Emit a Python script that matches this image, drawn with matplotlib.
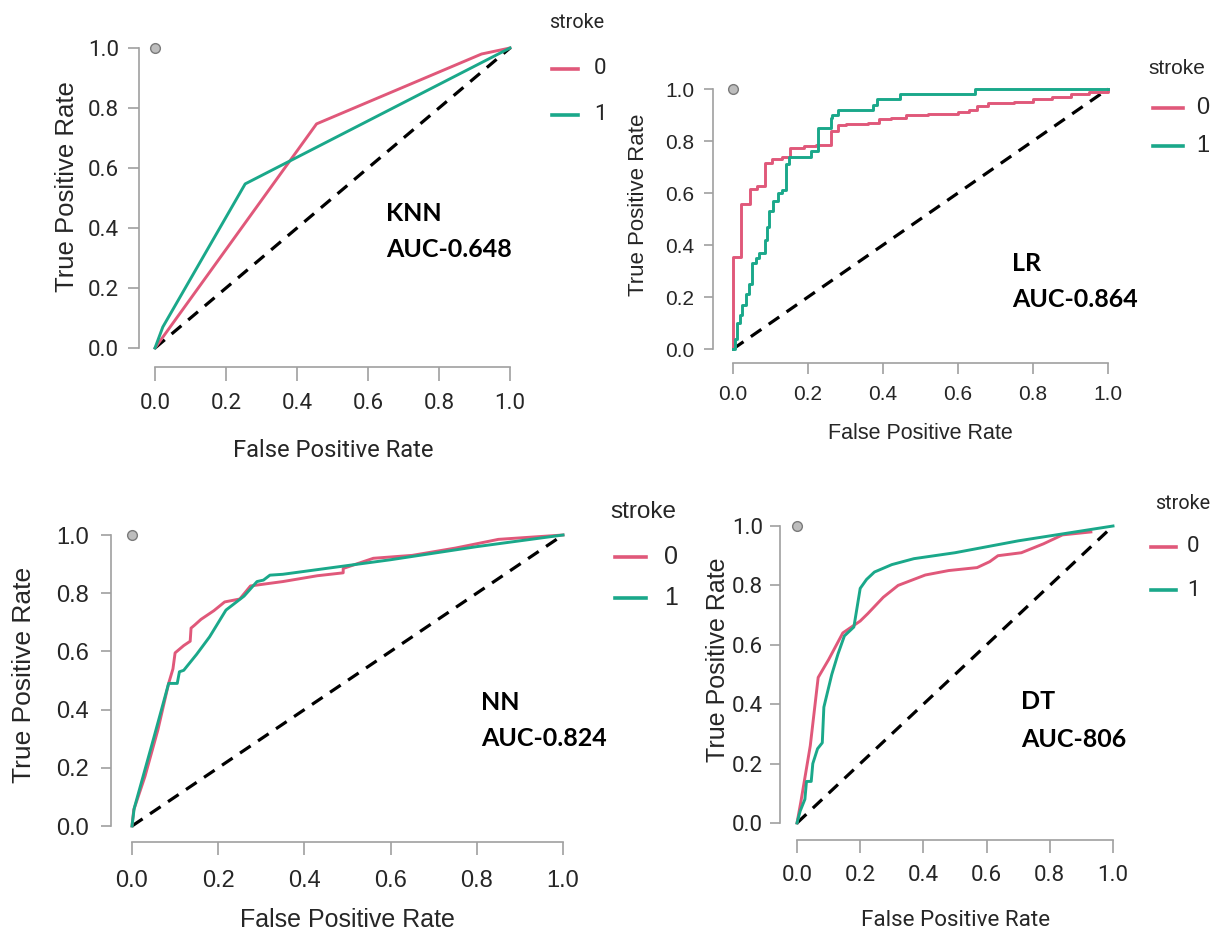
import matplotlib
matplotlib.use("Agg")
import matplotlib.pyplot as plt
import matplotlib.font_manager as fm
from matplotlib.font_manager import FontProperties
from matplotlib.lines import Line2D

# ---- data ----
knn_fpr0 = [0.0, 0.455, 0.92, 1.0]
knn_tpr0 = [0.0, 0.747, 0.98, 1.0]
knn_fpr1 = [0.0, 0.022, 0.254, 1.0]
knn_tpr1 = [0.0, 0.07, 0.547, 1.0]

lr_fpr0 = [0.0, 0.0, 0.022, 0.044, 0.065, 0.085, 0.105, 0.13, 0.152, 0.19, 0.22, 0.26,
           0.28, 0.30, 0.36, 0.39, 0.42, 0.46, 0.52, 0.60, 0.63, 0.65, 0.68, 0.75,
           0.80, 0.85, 0.90, 0.95, 1.0]
lr_tpr0 = [0.0, 0.355, 0.557, 0.615, 0.625, 0.715, 0.73, 0.74, 0.772, 0.78, 0.785, 0.84,
           0.86, 0.865, 0.87, 0.885, 0.89, 0.90, 0.905, 0.91, 0.92, 0.935, 0.945, 0.95,
           0.96, 0.97, 0.98, 0.99, 1.0]
lr_fpr1 = [0.0, 0.005, 0.01, 0.018, 0.025, 0.034, 0.042, 0.05, 0.06, 0.07, 0.085, 0.09,
           0.095, 0.106, 0.12, 0.13, 0.142, 0.15, 0.209, 0.227, 0.26, 0.265, 0.28,
           0.373, 0.383, 0.445, 0.645, 1.0]
lr_tpr1 = [0.0, 0.04, 0.1, 0.13, 0.17, 0.21, 0.25, 0.33, 0.35, 0.37, 0.42, 0.47,
           0.53, 0.57, 0.60, 0.61, 0.71, 0.74, 0.76, 0.85, 0.89, 0.90, 0.92,
           0.94, 0.96, 0.98, 1.0, 1.0]

nn_fpr0 = [0.0, 0.004, 0.03, 0.06, 0.085, 0.095, 0.10, 0.12, 0.135, 0.137, 0.145, 0.16,
           0.19, 0.215, 0.25, 0.275, 0.30, 0.35, 0.43, 0.49, 0.49, 0.56, 0.65, 0.75,
           0.85, 1.0]
nn_tpr0 = [0.0, 0.055, 0.17, 0.33, 0.49, 0.54, 0.595, 0.62, 0.635, 0.68, 0.69, 0.71,
           0.74, 0.77, 0.78, 0.825, 0.83, 0.84, 0.86, 0.87, 0.885, 0.92, 0.93, 0.955,
           0.985, 1.0]
nn_fpr1 = [0.0, 0.005, 0.02, 0.05, 0.085, 0.105, 0.11, 0.12, 0.15, 0.18, 0.218, 0.26,
           0.29, 0.305, 0.32, 0.35, 0.50, 0.60, 0.80, 1.0]
nn_tpr1 = [0.0, 0.06, 0.14, 0.30, 0.49, 0.49, 0.53, 0.535, 0.59, 0.65, 0.742, 0.79,
           0.84, 0.845, 0.862, 0.865, 0.895, 0.915, 0.96, 1.0]

dt_fpr0 = [0.0, 0.012, 0.042, 0.067, 0.10, 0.145, 0.20, 0.224, 0.273, 0.32, 0.406,
           0.48, 0.57, 0.61, 0.636, 0.71, 0.78, 0.84, 0.93]
dt_tpr0 = [0.0, 0.07, 0.26, 0.49, 0.55, 0.64, 0.68, 0.705, 0.76, 0.80, 0.835,
           0.85, 0.86, 0.88, 0.90, 0.91, 0.94, 0.97, 0.98]
dt_fpr1 = [0.0, 0.01, 0.025, 0.03, 0.045, 0.05, 0.065, 0.08, 0.085, 0.11, 0.13, 0.15,
           0.18, 0.20, 0.22, 0.245, 0.30, 0.37, 0.50, 0.70, 0.85, 1.0]
dt_tpr1 = [0.0, 0.04, 0.08, 0.14, 0.14, 0.2, 0.25, 0.27, 0.39, 0.50, 0.57, 0.63,
           0.66, 0.79, 0.82, 0.845, 0.87, 0.89, 0.91, 0.95, 0.975, 1.0]

models = ["KNN", "LR", "NN", "DT"]
auc_labels = ["AUC-0.648", "AUC-0.864", "AUC-0.824", "AUC-806"]
classes = ["0", "1"]
ticks = [0.0, 0.2, 0.4, 0.6, 0.8, 1.0]

curves = [
    (knn_fpr0, knn_tpr0, knn_fpr1, knn_tpr1, "default"),
    (lr_fpr0, lr_tpr0, lr_fpr1, lr_tpr1, "steps-post"),
    (nn_fpr0, nn_tpr0, nn_fpr1, nn_tpr1, "default"),
    (dt_fpr0, dt_tpr0, dt_fpr1, dt_tpr1, "default"),
]

# ---- styling / layout ----
W, H = 1212, 930
PINK = "#E0587A"
TEAL = "#1AA88A"
SPINE = "#A0A0A0"
TXT = "#262626"
REG = "Liberation Sans"
BOLD = "Lato"


def find_narrow():
    # the left/bottom-right panels of the picture use a condensed sans face
    entries = fm.fontManager.ttflist
    for e in entries:
        if e.name == "Liberation Sans Narrow" and e.style == "normal" and e.weight in (400, "normal"):
            return e.fname
    for e in entries:
        fn = e.fname.lower()
        if "notosans-condensed." in fn or fn.endswith("notosans-condensed.ttf"):
            return e.fname
    for e in entries:
        if e.name == "Noto Sans" and e.stretch == "condensed" and e.style == "normal" \
                and e.weight in (400, "normal"):
            return e.fname
    return None


narrow_file = find_narrow()


def narrow_font(size):
    if narrow_file:
        return FontProperties(fname=narrow_file, size=size)
    return FontProperties(family="Roboto", size=size * 0.95)


def reg_font(size):
    return FontProperties(family=REG, size=size)


# pixel positions: data x0,x1,y0,y1 and spine positions sx, sy
panels = [
    dict(x0=155, x1=510, y0=348, y1=48, sx=139, sy=367, font=narrow_font, tick=17, tl=10, xpad=9, ypad=6.5,
         xlab=(333, 450, 18), ylab=(67, 187, 18.5), ann=(0.65, 0.45, 0.33),
         leg=dict(title=(577, 23, 15), l0=(552, 578, 69), l1=115, num=(600, 17))),
    dict(x0=733, x1=1108, y0=349, y1=89, sx=713, sy=363, font=reg_font, tick=15, tl=8, xpad=8, ypad=7,
         xlab=(920, 433, 15.5), ylab=(638, 205, 16), ann=(0.744, 0.33, 0.19),
         leg=dict(title=(1177, 68, 15), l0=(1153, 1183, 108), l1=146, num=(1203, 17))),
    dict(x0=132, x1=563, y0=826, y1=535, sx=111, sy=842, font=reg_font, tick=17, tl=9, xpad=11, ypad=8.5,
         xlab=(347, 920, 18), ylab=(24, 675, 19), ann=(0.81, 0.426, 0.30),
         leg=dict(title=(643, 512, 17.5), l0=(615, 646, 557), l1=598, num=(671, 18))),
    dict(x0=797, x1=1113, y0=823, y1=526, sx=780, sy=840, font=narrow_font, tick=17, tl=9, xpad=9, ypad=5,
         xlab=(956, 920, 17), ylab=(718, 660, 18), ann=(0.71, 0.41, 0.28),
         leg=dict(title=(1183, 503, 15), l0=(1151, 1176, 547), l1=590, num=(1193, 17))),
]


def fx(x):
    return x / W


def fy(y):
    return 1 - y / H


fig = plt.figure(figsize=(W / 100, H / 100), dpi=100)

for i, p in enumerate(panels):
    left = p["sx"]
    right = p["x1"] + (p["x0"] - p["sx"])
    bottom = p["sy"]
    top = p["y1"] - (p["sy"] - p["y0"])
    ax = fig.add_axes([fx(left), fy(bottom), (right - left) / W, (bottom - top) / H])
    ax.patch.set_visible(False)
    dx = (p["x0"] - p["sx"]) / (p["x1"] - p["x0"])
    dy = (p["sy"] - p["y0"]) / (p["y0"] - p["y1"])
    ax.set_xlim(-dx, 1 + dx)
    ax.set_ylim(-dy, 1 + dy)

    f0, t0, f1, t1, ds = curves[i]
    ax.plot([0, 1], [0, 1], color="black", lw=2.3, ls=(0, (4, 2.8)), zorder=2)
    ax.plot(f0, t0, color=PINK, lw=2.1, drawstyle=ds, zorder=3)
    ax.plot(f1, t1, color=TEAL, lw=2.1, drawstyle=ds, zorder=4)
    ax.plot([0], [1], "o", ms=7, mfc="#BDBDBD", mec="#7A7A7A", mew=1.0, zorder=5)

    for s in ["top", "right"]:
        ax.spines[s].set_visible(False)
    for s in ["left", "bottom"]:
        ax.spines[s].set_color(SPINE)
        ax.spines[s].set_linewidth(1.2)
        ax.spines[s].set_bounds(0, 1)
    ax.set_xticks(ticks)
    ax.set_yticks(ticks)
    ax.set_xticklabels([f"{t:.1f}" for t in ticks], fontproperties=p["font"](p["tick"]), color=TXT)
    ax.set_yticklabels([f"{t:.1f}" for t in ticks], fontproperties=p["font"](p["tick"]), color=TXT)
    ax.tick_params(axis="x", length=p["tl"], width=1.2, color=SPINE, pad=p["xpad"])
    ax.tick_params(axis="y", length=p["tl"] * 0.8, width=1.2, color=SPINE, pad=p["ypad"])

    # axis titles
    x, y, s = p["xlab"]
    fig.text(fx(x), fy(y), "False Positive Rate", ha="center", va="center",
             fontproperties=p["font"](s), color=TXT)
    x, y, s = p["ylab"]
    fig.text(fx(x), fy(y), "True Positive Rate", ha="center", va="center",
             fontproperties=reg_font(s), color=TXT, rotation=90)

    # model annotation
    ax_x, ay1, ay2 = p["ann"]
    ax.text(ax_x, ay1, models[i], fontsize=18, family=BOLD, fontweight="bold",
            va="center", ha="left", color="black", clip_on=False)
    ax.text(ax_x, ay2, auc_labels[i], fontsize=18, family=BOLD, fontweight="bold",
            va="center", ha="left", color="black", clip_on=False)

    # legend
    lg = p["leg"]
    x, y, s = lg["title"]
    fig.text(fx(x), fy(y), "stroke", ha="center", va="center",
             fontproperties=p["font"](s), color=TXT)
    lx0, lx1, ly0 = lg["l0"]
    numx, nums = lg["num"]
    for ly, col, lab in [(ly0, PINK, classes[0]), (lg["l1"], TEAL, classes[1])]:
        fig.add_artist(Line2D([fx(lx0), fx(lx1)], [fy(ly), fy(ly)], color=col, lw=2.6,
                              transform=fig.transFigure))
        fig.text(fx(numx), fy(ly), lab, ha="center", va="center",
                 fontproperties=p["font"](nums), color=TXT)

fig.savefig("out.png", dpi=100, facecolor="white")
